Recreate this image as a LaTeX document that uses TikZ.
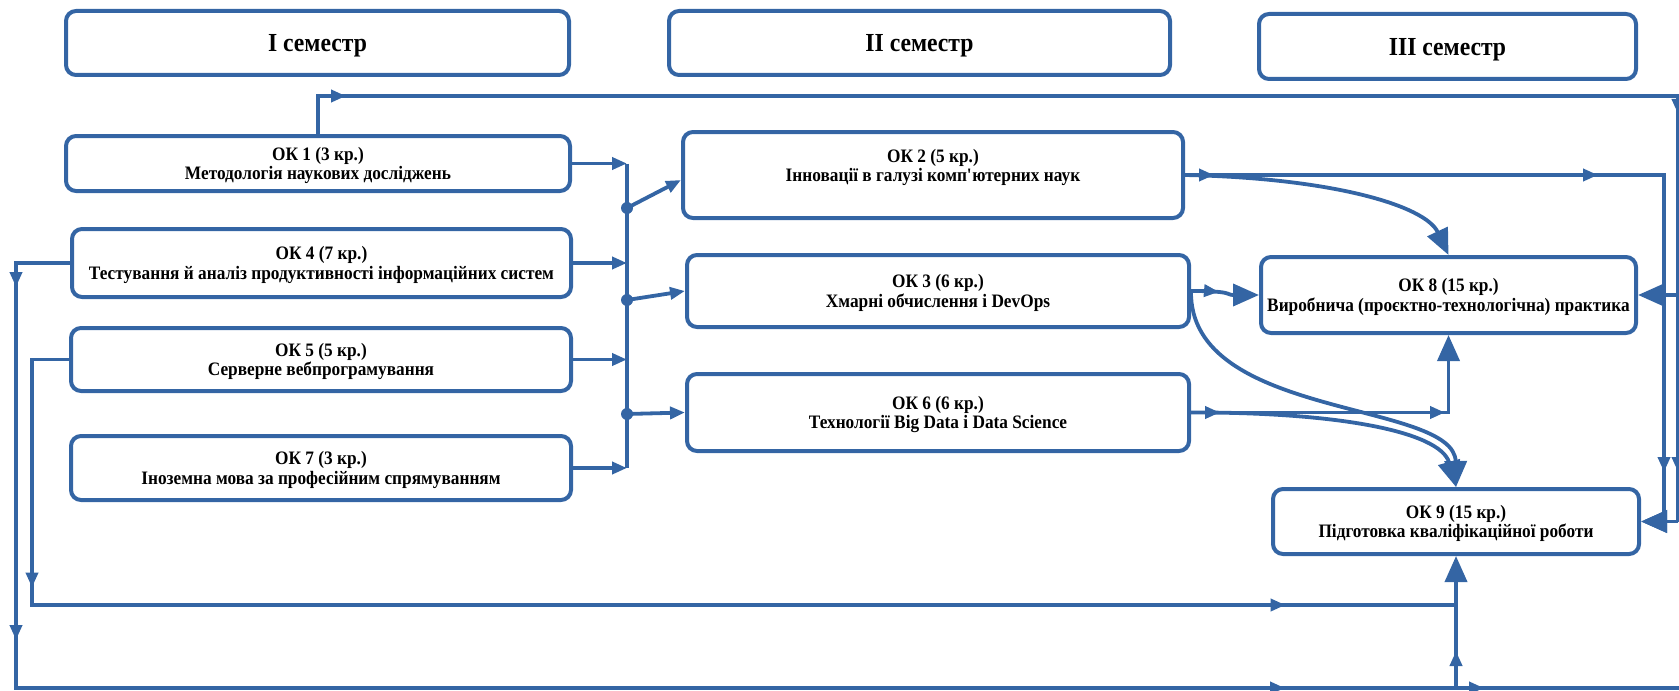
\documentclass[tikz,border=0pt]{standalone}
\usepackage{fontspec}
\setmainfont{Liberation Serif}[FakeStretch=0.91]
\usetikzlibrary{positioning, arrows.meta, decorations.markings}
\definecolor{lineblue}{RGB}{52,101,164}

\begin{document}
\begin{tikzpicture}[
            x=0.5pt, y=-0.5pt,
            block/.style={rectangle, draw=lineblue, line width=2pt, rounded corners=5pt, align=center, inner sep=2pt, text depth=0pt, font=\fontsize{9.5}{9.7}\selectfont\bfseries},
            semester/.style={block, font=\fontsize{13}{14}\selectfont\bfseries},
            link/.style={lineblue, line width=1.9pt},
            smalltip/.tip={Triangle[length=7.5pt, width=6pt]},
            bigtip/.tip={Triangle[length=13pt, width=11pt]},
            tipat/.style={postaction={decorate, decoration={markings, mark=at position #1 with {\arrow{smalltip}}}}},
            dot/.style={circle, fill=lineblue, inner sep=0pt, minimum size=6pt}
        ]

        \useasboundingbox (0,0) rectangle (1679,690);
        \clip (0,0) rectangle (1679,690);

        \node[semester, minimum width=251.5pt, minimum height=32pt] (sem1) at (317.5,43) {I семестр};
        \node[semester, minimum width=250.5pt, minimum height=32pt] (sem2) at (919.5,43) {II семестр};
        \node[semester, minimum width=188.5pt, minimum height=32.5pt] (sem3) at (1447.5,46.5) {III семестр};

        \node[block, minimum width=252pt, minimum height=27.5pt] (ok1) at (318,163.5) {ОК 1 (3 кр.)\\Методологія наукових досліджень};
        \node[block, minimum width=249.5pt, minimum height=34pt] (ok4) at (321.5,263) {ОК 4 (7 кр.)\\Тестування й аналіз продуктивності інформаційних систем};
        \node[block, minimum width=250pt, minimum height=31.5pt] (ok5) at (321,359.5) {ОК 5 (5 кр.)\\Серверне вебпрограмування};
        \node[block, minimum width=250pt, minimum height=32pt] (ok7) at (321,468) {ОК 7 (3 кр.)\\Іноземна мова за професійним спрямуванням};

        \node[block, minimum width=250pt, minimum height=43pt] (ok2) at (933,175) {ОК 2 (5 кр.)\\Інновації в галузі комп\textquotesingle ютерних наук\\\mbox{}};
        \node[block, minimum width=251pt, minimum height=36pt] (ok3) at (938,291) {ОК 3 (6 кр.)\\Хмарні обчислення і DevOps};
        \node[block, minimum width=251pt, minimum height=38.5pt] (ok6) at (938,412.5) {ОК 6 (6 кр.)\\Технології Big Data і Data Science};

        \node[block, minimum width=187.5pt, minimum height=38pt] (ok8) at (1448.5,295) {ОК 8 (15 кр.)\\Виробнича (проєктно-технологічна) практика};
        \node[block, minimum width=183pt, minimum height=32.5pt] (ok9) at (1456,521.5) {ОК 9 (15 кр.)\\Підготовка кваліфікаційної роботи};

        \coordinate (bus) at (627,0);
        \draw[link, -{smalltip}] (ok1.east) -- (ok1.east -| bus);
        \draw[link, -{smalltip}] (ok4.east) -- (ok4.east -| bus);
        \draw[link, -{smalltip}] (ok5.east) -- (ok5.east -| bus);
        \draw[link, -{smalltip}] (ok7.east) -- (ok7.east -| bus);
        \draw[link] (ok1.east -| bus) -- (ok7.east -| bus);

        \node[dot] (j1) at (627,208) {};
        \node[dot] (j2) at (627,300) {};
        \node[dot] (j3) at (627,414) {};
        \draw[link, -{smalltip}] (j1.center) -- ([yshift=-2.5pt]ok2.west);
        \draw[link, -{smalltip}] (j2.center) -- (ok3.west);
        \draw[link, -{smalltip}] (j3.center) -- (ok6.west);

        \coordinate (topright) at (1678,96);
        \coordinate (rightend) at (1678,521.5);
        \draw[link, tipat=33pt, tipat=708pt, tipat=887pt] (ok1.north) |- (topright) -- (rightend);
        \draw[link, -{bigtip}] (topright |- ok8.east) -- (ok8.east);
        \draw[link, -{bigtip}] (rightend) -- (ok9.east);

        \coordinate (ok2turn) at (1664,175);
        \draw[link, -{bigtip}, tipat=14.5pt, tipat=206.5pt, tipat=388pt] (ok2.east) -- (ok2turn) -- (ok2turn |- ok9.east) -- (ok9.east);
        \draw[link, -{bigtip}] (ok2.east) .. controls (1330,178) and (1425,205) .. (ok8.north);

        \draw[link, -{bigtip}, tipat=14pt] (ok3.east) .. controls (1235,291) and (1225,295) .. (ok8.west);
        \draw[link, -{bigtip}] (ok3.east) .. controls (1189,420) and (1455,400) .. (ok9.north);

        \draw[link, -{bigtip}, tipat=14.5pt, tipat=127pt] (ok6.east) -| (ok8.south);
        \draw[link, -{bigtip}] (ok6.east) .. controls (1330,412) and (1440,430) .. (ok9.north);

        \coordinate (outer) at (16,688);
        \coordinate (inner) at (32,605);
        \coordinate (farright) at (1700,688);
        \draw[link, -{bigtip}, tipat=39pt, tipat=215.5pt, tipat=874pt, tipat=978pt] (ok4.west) -| (outer) -- (outer -| ok9.south) -- (ok9.south);
        \draw[link, tipat=132.5pt, tipat=768pt] (ok5.west) -| (inner) -- (inner -| ok9.south);
        \draw[link, tipat=14pt] (outer -| ok9.south) -- (farright);

    \end{tikzpicture}
\end{document}
